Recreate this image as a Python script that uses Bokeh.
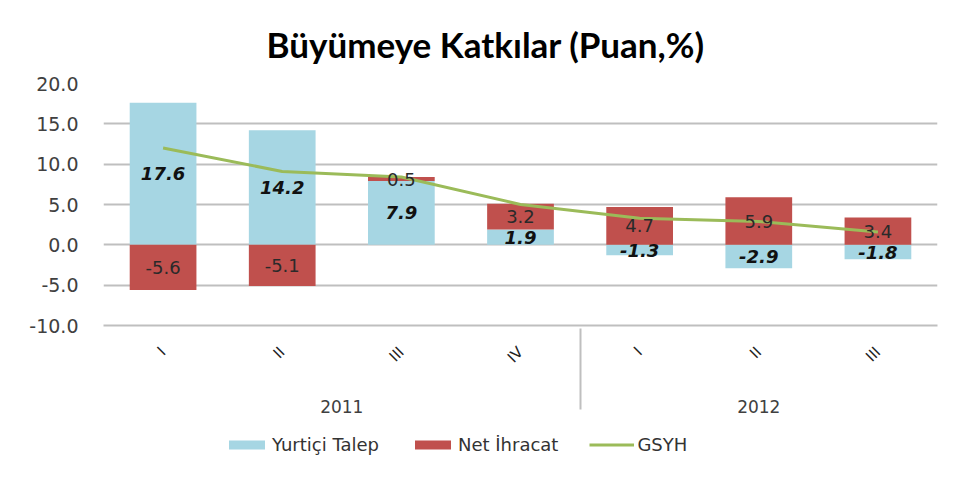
import math
from bokeh.plotting import figure
from bokeh.layouts import column
from bokeh.models import (FactorRange, ColumnDataSource, LabelSet, Legend, LegendItem,
                          Range1d, FixedTicker, NumeralTickFormatter)
from bokeh.embed import file_html
from bokeh.resources import INLINE
from bokeh.core.properties import value

# ---- data ----
years = ["2011", "2011", "2011", "2011", "2012", "2012", "2012"]
quarters = ["I", "II", "III", "IV", "I", "II", "III"]
yurtici_talep = [17.6, 14.2, 7.9, 1.9, -1.3, -2.9, -1.8]
net_ihracat = [-5.6, -5.1, 0.5, 3.2, 4.7, 5.9, 3.4]
gsyh = [12.0, 9.1, 8.4, 5.0, 3.3, 2.9, 1.6]
y_ticks = [-10, -5, 0, 5, 10, 15, 20]
title_text = "Büyümeye Katkılar (Puan,%)"
series_names = ["Yurtiçi Talep", "Net İhracat", "GSYH"]

BLUE = "#A6D6E3"
RED = "#C0504D"
GREEN = "#9BBB59"
GRID = "#BFBFBF"
FONT = "DejaVu Sans"

factors = list(zip(years, quarters))
n = len(factors)

# stack positive / negative parts separately (like Excel stacked columns)
pos = [0.0] * n
neg = [0.0] * n
stacked = []
for vals in (yurtici_talep, net_ihracat):
    bottoms, tops = [], []
    for i, v in enumerate(vals):
        if v >= 0:
            b, t = pos[i], pos[i] + v
            pos[i] = t
        else:
            b, t = neg[i] + v, neg[i]
            neg[i] = b
        bottoms.append(b)
        tops.append(t)
    stacked.append(ColumnDataSource(dict(
        x=factors, bottom=bottoms, top=tops,
        ly=[(b + t) / 2 for b, t in zip(bottoms, tops)],
        txt=[f"{v:.1f}" for v in vals])))

src_blue, src_red = stacked
src_line = ColumnDataSource(dict(x=factors, y=gsyh))

p = figure(
    x_range=FactorRange(*factors, range_padding=0, group_padding=0, factor_padding=0),
    y_range=Range1d(-10, 20),
    width=950, height=424,
    output_backend="svg", toolbar_location=None,
    min_border_left=103, min_border_right=13, min_border_top=83, min_border_bottom=99,
)
p.outline_line_color = None
p.background_fill_color = "white"
p.border_fill_color = "white"

r_blue = p.vbar(x="x", bottom="bottom", top="top", width=0.56, source=src_blue,
                fill_color=BLUE, line_color=None)
r_red = p.vbar(x="x", bottom="bottom", top="top", width=0.56, source=src_red,
               fill_color=RED, line_color=None)
r_line = p.line(x="x", y="y", source=src_line, line_color=GREEN, line_width=3)

p.add_layout(LabelSet(x="x", y="ly", text="txt", source=src_blue,
                      text_align="center", text_baseline="middle",
                      text_font=value(FONT), text_font_style="bold italic",
                      text_font_size="18px", text_color="#111111"))
p.add_layout(LabelSet(x="x", y="ly", text="txt", source=src_red,
                      text_align="center", text_baseline="middle",
                      text_font=value(FONT), text_font_style="normal",
                      text_font_size="18px", text_color="#2a2a2a"))

# grid
p.xgrid.grid_line_color = None
p.ygrid.ticker = FixedTicker(ticks=y_ticks)
p.ygrid.grid_line_color = GRID
p.ygrid.grid_line_width = 2

# y axis
ya = p.yaxis[0]
ya.ticker = FixedTicker(ticks=y_ticks)
ya.formatter = NumeralTickFormatter(format="0.0")
ya.axis_line_color = None
ya.major_tick_line_color = None
ya.minor_tick_line_color = None
ya.major_tick_out = 0
ya.major_label_standoff = 25
ya.major_label_text_font = FONT
ya.major_label_text_font_size = "19px"
ya.major_label_text_color = "#404040"

# x axis
xa = p.xaxis[0]
xa.axis_line_color = GRID
xa.axis_line_width = 2
xa.major_tick_line_color = None
xa.major_tick_out = 0
xa.major_label_orientation = math.pi / 4
xa.major_label_standoff = 24
xa.major_label_text_font = FONT
xa.major_label_text_font_size = "15px"
xa.major_label_text_color = "#222222"
xa.group_text_font = FONT
xa.group_text_font_size = "17px"
xa.group_text_color = "#404040"
xa.group_text_font_style = "normal"
xa.separator_line_color = GRID
xa.separator_line_width = 2

# title
p.title.text = title_text
p.title.align = "left"
p.title.offset = 163
p.title.standoff = 38
p.title.text_font = "Lato"
p.title.text_font_style = "bold"
p.title.text_font_size = "35px"
p.title.text_color = "#000000"

# ---- legend strip (separate element below the chart) ----
pl = figure(width=950, height=52, output_backend="svg", toolbar_location=None,
            min_border=0, x_range=Range1d(0, 1), y_range=Range1d(0, 1))
pl.outline_line_color = None
pl.axis.visible = False
pl.grid.grid_line_color = None
# style samples for the legend keys only (kept outside the visible range)
sample = ColumnDataSource(dict(x=[-5.0], top=[-5.0], y=[-5.0]))
l_blue = pl.vbar(x="x", top="top", width=0.5, source=sample, fill_color=BLUE, line_color=None)
l_red = pl.vbar(x="x", top="top", width=0.5, source=sample, fill_color=RED, line_color=None)
l_line = pl.line(x="x", y="y", source=sample, line_color=GREEN, line_width=3)

legend = Legend(items=[LegendItem(label=series_names[0], renderers=[l_blue]),
                       LegendItem(label=series_names[1], renderers=[l_red]),
                       LegendItem(label=series_names[2], renderers=[l_line])],
                orientation="horizontal", location=(121, 21),
                glyph_width=45, glyph_height=11, label_standoff=3, spacing=31,
                padding=0, margin=0, border_line_color=None, background_fill_alpha=0,
                label_text_font=FONT, label_text_font_size="18px",
                label_text_color="#333333", label_height=11)
pl.add_layout(legend, "center")

layout = column(p, pl, spacing=0)
open("out.html", "w").write(file_html(layout, INLINE))
